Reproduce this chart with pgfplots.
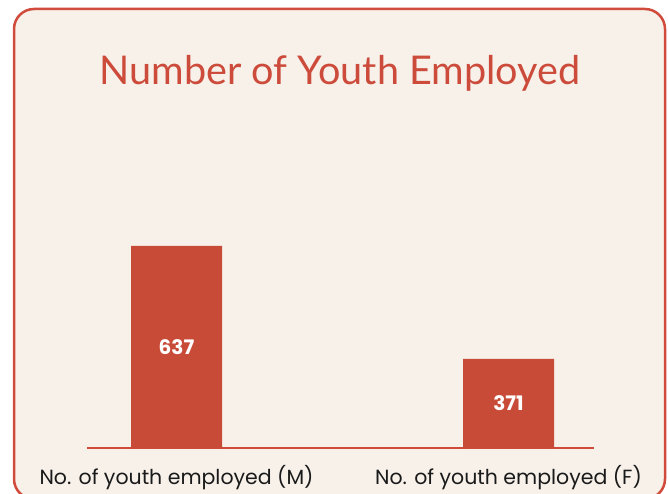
\documentclass[border=0pt]{standalone}
\usepackage{pgfplots}
\pgfplotsset{compat=1.18}
\usepackage{fontspec}
\setmainfont{Poppins}
\newfontfamily\titlefont{Lato}
\definecolor{barred}{HTML}{C84B38}
\definecolor{bgcol}{HTML}{F7F1EA}
\definecolor{framecol}{HTML}{D04B3C}
\definecolor{titlecol}{HTML}{CC4B3B}
\definecolor{txt}{HTML}{1A1A1A}
\begin{document}
\begin{tikzpicture}[x=1pt,y=1pt]
\path[use as bounding box] (0,0) rectangle (668,493);
\draw[framecol, line width=2.5pt, fill=bgcol, rounded corners=20pt] (14,484) rectangle (665,-6);
\node[anchor=base, text=titlecol, font=\titlefont\fontsize{39.6}{42}\selectfont] at (340,408) {Number of Youth Employed};
\begin{axis}[
  at={(87pt,45pt)}, anchor=south west,
  scale only axis, width=507pt, height=318pt,
  xmin=-0.2696, xmax=1.2575, ymin=161.5, ymax=910,
  axis x line*=bottom, axis y line=none,
  x axis line style={-, draw=framecol, line width=2pt},
  xtick={0,1}, xticklabels={No. of youth employed (M), No. of youth employed (F)},
  major tick length=0pt,
  xticklabel style={anchor=base, yshift=-36pt, text=txt, font=\fontsize{20.5}{23}\selectfont},
  clip=false,
]
\addplot[ybar, bar width=91pt, fill=barred, draw=none, bar shift=0pt] coordinates {(0,637) (1,371)};
\addplot[draw=none, mark=none, nodes near coords, point meta=explicit symbolic,
  every node near coord/.append style={anchor=center, text=white, font=\bfseries\fontsize{20}{22}\selectfont}]
  coordinates {(0,399.25)[637] (1,266.25)[371]};
\end{axis}
\end{tikzpicture}
\end{document}
